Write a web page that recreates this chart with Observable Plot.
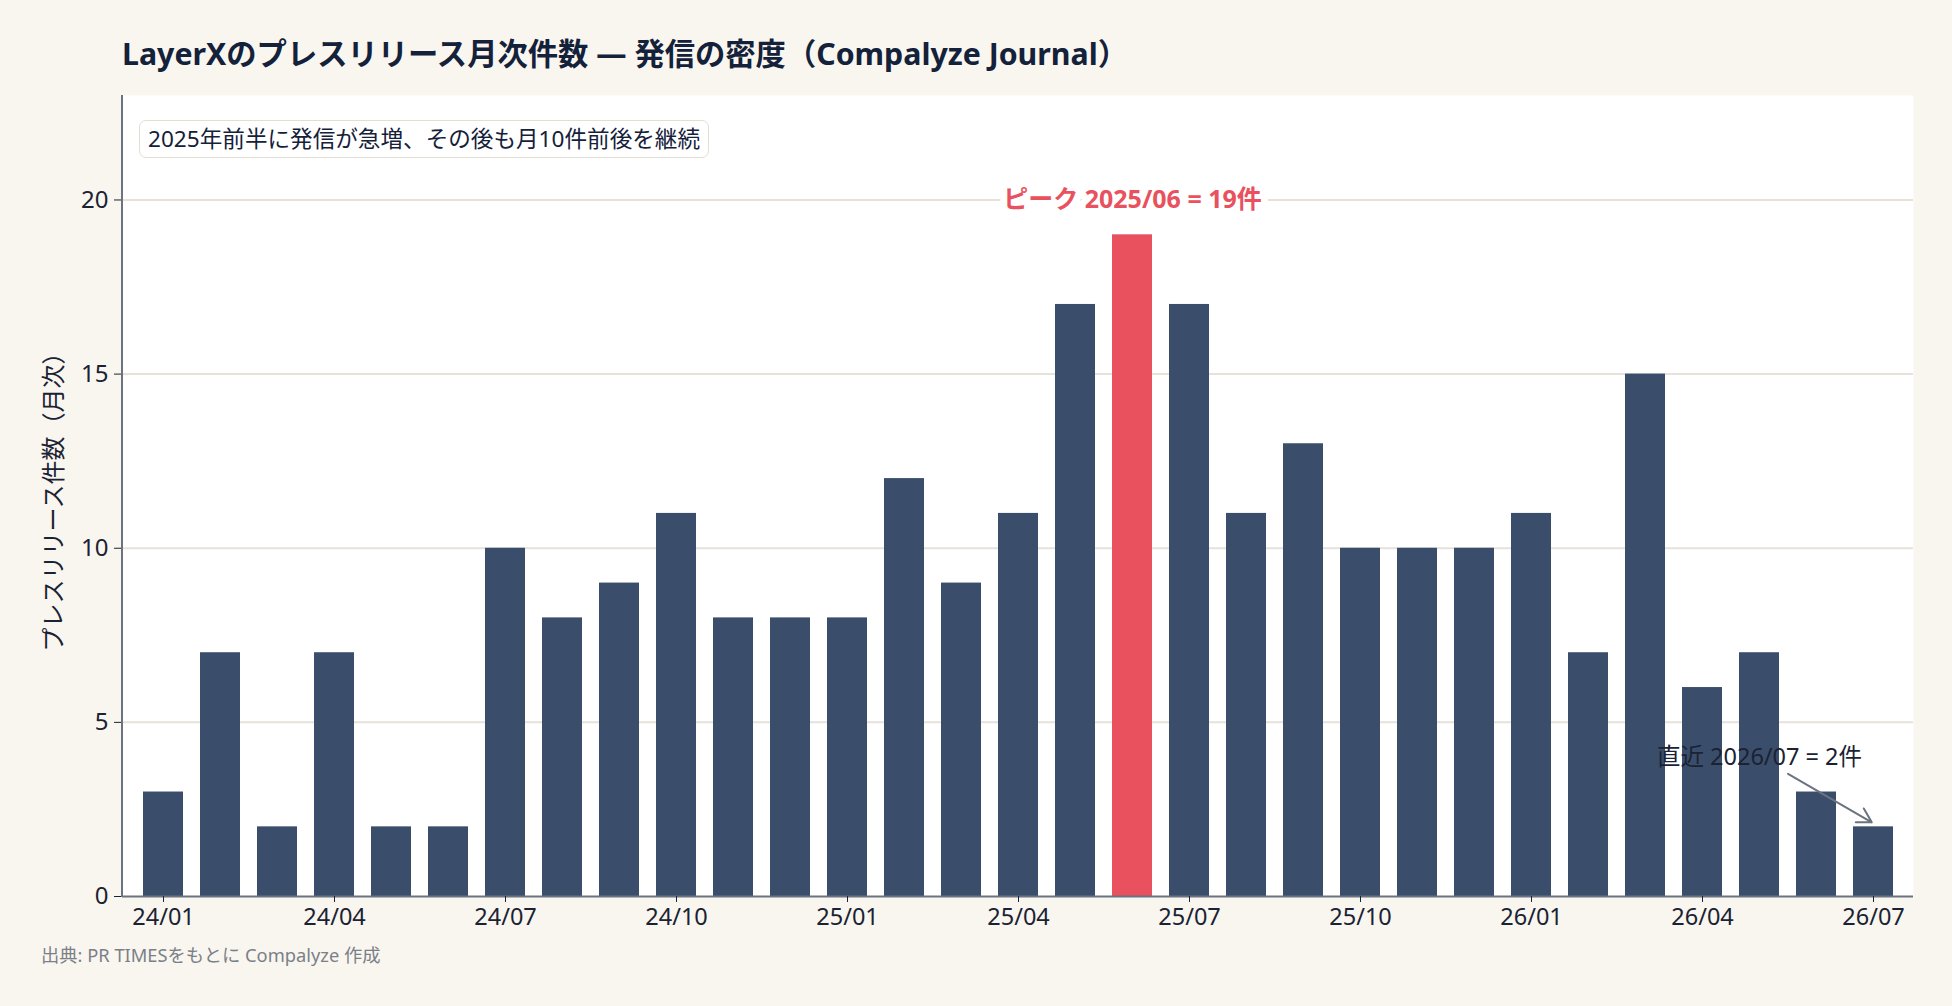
<!DOCTYPE html>
<html><head><meta charset="utf-8">
<script src="https://cdn.jsdelivr.net/npm/d3@7"></script>
<script src="https://cdn.jsdelivr.net/npm/@observablehq/plot@0.6"></script>
<style>
html,body{margin:0;padding:0;background:#f9f6ef;}
body{font-family:"Noto Sans","Noto Sans CJK JP",sans-serif;}
#wrap{position:relative;width:1952px;height:1006px;overflow:hidden;}
#title{position:absolute;left:122px;top:36px;line-height:36px;font-size:30.3px;font-weight:700;color:#14213a;white-space:nowrap;}
#chart{position:absolute;left:0;top:80px;}
#note{position:absolute;left:139px;top:120px;height:36px;line-height:36px;padding:0 8px;font-size:22.6px;color:#14213a;background:#fff;border:1.5px solid #e3ded2;border-radius:7px;white-space:nowrap;}
#caption{position:absolute;left:41px;top:945px;line-height:20px;font-size:18.3px;color:#7b8088;white-space:nowrap;}
</style></head>
<body>
<div id="wrap">
  <div id="title">LayerXのプレスリリース月次件数 — 発信の密度（Compalyze Journal）</div>
  <div id="chart"></div>
  <div id="note">2025年前半に発信が急増、その後も月10件前後を継続</div>
  <div id="caption">出典: PR TIMESをもとに Compalyze 作成</div>
</div>
<script>
const months = ["24/01","24/02","24/03","24/04","24/05","24/06","24/07","24/08","24/09","24/10","24/11","24/12",
                "25/01","25/02","25/03","25/04","25/05","25/06","25/07","25/08","25/09","25/10","25/11","25/12",
                "26/01","26/02","26/03","26/04","26/05","26/06","26/07"];
const counts = [3,7,2,7,2,2,10,8,9,11,8,8,
                8,12,9,11,17,19,17,11,13,10,10,10,
                11,7,15,6,7,3,2];
const xTickLabels = ["24/01","24/04","24/07","24/10","25/01","25/04","25/07","25/10","26/01","26/04","26/07"];
const yTicks = [0,5,10,15,20];
const peakMonth = "25/06";
const peakLabel = "ピーク 2025/06 = 19件";
const recentMonth = "26/07";
const recentLabel = "直近 2026/07 = 2件";
const recentLabelMonth = "26/05";
const recentLabelY = 4;

const data = months.map((m, i) => ({month: m, count: counts[i]}));
const peak = data.find(d => d.month === peakMonth);
const recent = data.find(d => d.month === recentMonth);

const navy = "#3a4e6b", red = "#e8515d", axisGray = "#6b7280", ink = "#1a2233";
const font = '"Noto Sans","Noto Sans CJK JP",sans-serif';

const chart = Plot.plot({
  width: 1952, height: 860,
  marginLeft: 122, marginRight: 39, marginTop: 15, marginBottom: 44,
  style: {background: "transparent", fontFamily: font, fontSize: "23px", color: ink},
  x: {type: "band", domain: months, paddingInner: 0.3, paddingOuter: 0.36, label: null},
  y: {domain: [0, 23], label: null},
  marks: [
    Plot.frame({fill: "white", stroke: null}),
    Plot.gridY(yTicks.filter(v => v > 0), {stroke: "#e6e1d9", strokeOpacity: 1, strokeWidth: 2}),
    Plot.barY(data.filter(d => d.month !== peakMonth), {x: "month", y: "count", fill: navy}),
    Plot.barY(data.filter(d => d.month === peakMonth), {x: "month", y: "count", fill: red}),
    Plot.ruleY([0], {stroke: axisGray, strokeWidth: 2}),
    Plot.axisX({ticks: xTickLabels, tickSize: 6, tickPadding: 6, stroke: ink, fill: ink, fontSize: 23.5, label: null}),
    Plot.axisY({ticks: yTicks, tickSize: 8, tickPadding: 6, stroke: ink, fill: ink, fontSize: 24,
      label: "プレスリリース件数（月次）", labelAnchor: "center", labelArrow: "none", labelOffset: 78}),
    Plot.text([peak], {x: "month", y: "count", text: () => peakLabel, dy: -35, fill: red, fontWeight: 700, fontSize: 25,
      stroke: "white", strokeWidth: 14, paintOrder: "stroke", strokeLinejoin: "round"}),
    Plot.arrow([recent], {x1: () => recentLabelMonth, y1: () => recentLabelY, x2: "month", y2: d => d.count + 0.1,
      insetStart: 33, insetEnd: 2, stroke: axisGray, strokeWidth: 2, headLength: 12}),
    Plot.text([recent], {x: () => recentLabelMonth, y: () => recentLabelY, text: () => recentLabel, fill: ink, fontSize: 23.5})
  ]
});
document.getElementById("chart").appendChild(chart);

// left axis line along the plot's y range
const ys = chart.scale("y").range, xs = chart.scale("x").range;
d3.select(chart).append("line")
  .attr("x1", xs[0]).attr("x2", xs[0]).attr("y1", ys[0] + 1).attr("y2", ys[1])
  .attr("stroke", axisGray).attr("stroke-width", 2);
</script>
</body></html>
